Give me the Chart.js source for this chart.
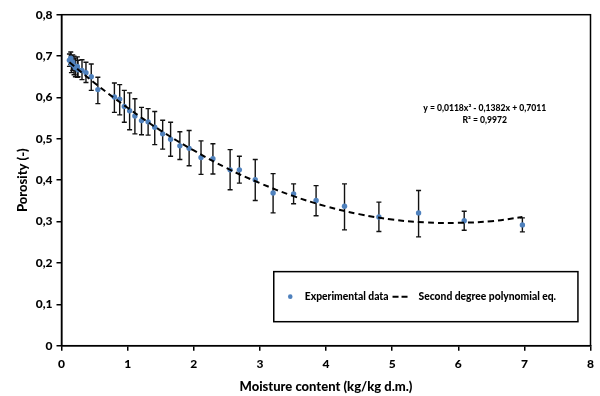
<!DOCTYPE html>
<html>
<head>
<meta charset="utf-8">
<script src="https://cdn.jsdelivr.net/npm/chart.js@4/dist/chart.umd.min.js"></script>
<style>
html,body{margin:0;padding:0;background:#fff;}
canvas{display:block;}
</style>
</head>
<body>
<canvas id="c" width="600" height="396"></canvas>
<script>
// ---- data ----
const moisture = [0.12,0.14,0.15,0.17,0.19,0.21,0.24,0.25,0.31,0.37,0.45,0.55,0.80,0.88,0.95,1.03,1.11,1.21,1.31,1.41,1.53,1.65,1.79,1.93,2.11,2.29,2.55,2.69,2.93,3.20,3.51,3.85,4.28,4.80,5.40,6.09,6.97];
const porosity = [0.690,0.695,0.681,0.685,0.677,0.672,0.675,0.667,0.665,0.660,0.650,0.619,0.601,0.596,0.578,0.568,0.555,0.544,0.541,0.528,0.512,0.499,0.483,0.477,0.455,0.452,0.425,0.425,0.401,0.369,0.367,0.351,0.337,0.311,0.321,0.302,0.292];
const porosityLow = [0.675,0.680,0.660,0.665,0.655,0.650,0.649,0.650,0.643,0.636,0.617,0.585,0.564,0.558,0.540,0.522,0.512,0.510,0.509,0.486,0.475,0.458,0.450,0.435,0.414,0.415,0.377,0.393,0.351,0.321,0.343,0.314,0.280,0.276,0.263,0.279,0.275];
const porosityHigh = [0.705,0.710,0.700,0.703,0.700,0.695,0.698,0.690,0.691,0.685,0.681,0.649,0.635,0.631,0.617,0.611,0.597,0.576,0.573,0.566,0.545,0.540,0.517,0.520,0.495,0.488,0.474,0.458,0.450,0.416,0.391,0.387,0.391,0.347,0.375,0.325,0.309];
const fitX = [0.12,0.5,1,1.5,2,2.5,3,3.5,4,4.5,5,5.5,6,6.5,6.97];
const fitY = [0.685,0.635,0.575,0.520,0.472,0.429,0.393,0.362,0.337,0.318,0.305,0.298,0.297,0.301,0.311];
const seriesLabels = ['Experimental data','Second degree polynomial eq.'];
const equationLines = ['y = 0,0118x\u00B2 - 0,1382x + 0,7011','R\u00B2 = 0,9972'];
const xTitle = 'Moisture content (kg/kg d.m.)';
const yTitle = 'Porosity (-)';

const FONT = 'Lato, "Liberation Sans", sans-serif';
const WEIGHT = '900';
const BLUE = '#4F81BD';

const errorBars = {
  id: 'errorBars',
  beforeDatasetsDraw(chart) {
    const {ctx, scales:{x, y}} = chart;
    ctx.save();
    ctx.strokeStyle = '#111';
    ctx.lineWidth = 1.4;
    for (let i = 0; i < moisture.length; i++) {
      const px = x.getPixelForValue(moisture[i]);
      const y1 = y.getPixelForValue(porosityLow[i]);
      const y2 = y.getPixelForValue(porosityHigh[i]);
      ctx.beginPath();
      ctx.moveTo(px, y1); ctx.lineTo(px, y2);
      ctx.moveTo(px - 2.5, y1); ctx.lineTo(px + 2.5, y1);
      ctx.moveTo(px - 2.5, y2); ctx.lineTo(px + 2.5, y2);
      ctx.stroke();
    }
    ctx.restore();
  }
};

const frameAndLegend = {
  id: 'frameAndLegend',
  afterDraw(chart) {
    const {ctx, chartArea: a, scales:{x, y}} = chart;
    ctx.save();
    ctx.strokeStyle = '#000';
    ctx.lineWidth = 1.5;
    ctx.strokeRect(a.left, a.top, a.right - a.left, a.bottom - a.top);
    // equation text
    ctx.fillStyle = '#000';
    ctx.font = WEIGHT + ' 8.6px ' + FONT;
    ctx.textAlign = 'center';
    ctx.textBaseline = 'middle';
    const ex = x.getPixelForValue(6.4);
    ctx.fillText(equationLines[0], ex, y.getPixelForValue(0.573));
    ctx.fillText(equationLines[1], ex, y.getPixelForValue(0.545));
    // legend box
    const lx = x.getPixelForValue(3.21), rx = x.getPixelForValue(7.81);
    const ty = y.getPixelForValue(0.179), by = y.getPixelForValue(0.058);
    ctx.fillStyle = '#fff';
    ctx.fillRect(lx, ty, rx - lx, by - ty);
    ctx.lineWidth = 1.5;
    ctx.strokeStyle = '#000';
    ctx.strokeRect(lx, ty, rx - lx, by - ty);
    const cy = (ty + by) / 2;
    ctx.fillStyle = BLUE;
    ctx.beginPath(); ctx.arc(lx + 16.5, cy, 2.3, 0, Math.PI * 2); ctx.fill();
    ctx.fillStyle = '#000';
    ctx.font = WEIGHT + ' 10.3px ' + FONT;
    ctx.textAlign = 'left';
    const t1x = lx + 31;
    ctx.fillText(chart.data.datasets[0].label, t1x, cy);
    const d0 = t1x + ctx.measureText(chart.data.datasets[0].label).width + 4;
    ctx.lineWidth = 2;
    ctx.beginPath();
    ctx.moveTo(d0, cy); ctx.lineTo(d0 + 6, cy);
    ctx.moveTo(d0 + 9, cy); ctx.lineTo(d0 + 15, cy);
    ctx.stroke();
    ctx.fillText(chart.data.datasets[1].label, d0 + 26, cy);
    ctx.restore();
  }
};

const fmt = v => (Math.abs(v) < 1e-9 ? '0' : v.toFixed(1).replace('.', ','));

new Chart(document.getElementById('c'), {
  type: 'scatter',
  data: {
    datasets: [
      {
        label: seriesLabels[0],
        data: moisture.map((m, i) => ({x: m, y: porosity[i]})),
        backgroundColor: BLUE,
        borderColor: BLUE,
        pointRadius: 2.7,
        pointBorderWidth: 0,
        order: 1
      },
      {
        label: seriesLabels[1],
        type: 'line',
        data: fitX.map((m, i) => ({x: m, y: fitY[i]})),
        borderColor: '#000',
        borderWidth: 2,
        borderDash: [6, 4],
        pointRadius: 0,
        fill: false,
        tension: 0.4,
        order: 0
      }
    ]
  },
  options: {
    responsive: false,
    animation: false,
    layout: {padding: {left: 0, right: 9.5, top: 14.7, bottom: 0}},
    plugins: {legend: {display: false}, tooltip: {enabled: false}},
    scales: {
      x: {
        type: 'linear',
        min: 0, max: 8,
        afterFit(s) { s.height = 50.3; },
        ticks: {stepSize: 1, padding: 6, color: '#000', font: {family: FONT, size: 12, weight: WEIGHT}, maxRotation: 0},
        grid: {display: true, drawOnChartArea: false, drawTicks: true, tickLength: 5, color: '#000', lineWidth: 1.5},
        border: {display: true, color: '#000', width: 1.5},
        title: {display: true, text: xTitle, color: '#000', font: {family: FONT, size: 13, weight: WEIGHT}, padding: {top: 0, bottom: 1}}
      },
      y: {
        type: 'linear',
        min: 0, max: 0.8,
        afterFit(s) { s.width = 61.5; },
        ticks: {stepSize: 0.1, padding: 4, color: '#000', callback: fmt, font: {family: FONT, size: 12, weight: WEIGHT}},
        grid: {display: true, drawOnChartArea: false, drawTicks: true, tickLength: 5, color: '#000', lineWidth: 1.5},
        border: {display: true, color: '#000', width: 1.5},
        title: {display: true, text: yTitle, color: '#000', font: {family: FONT, size: 13, weight: WEIGHT}, padding: {top: 15, bottom: 0}}
      }
    }
  },
  plugins: [errorBars, frameAndLegend]
});
</script>
</body>
</html>
